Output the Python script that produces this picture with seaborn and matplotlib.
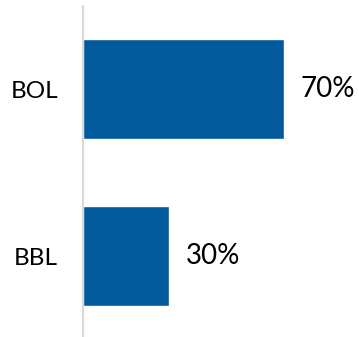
import matplotlib
matplotlib.use("Agg")
import matplotlib.pyplot as plt
import seaborn as sns
import pandas as pd

categories = ["BOL", "BBL"]
values = [70, 30]
value_labels = ["70%", "30%"]

sns.set_style("white")
plt.rcParams['font.family'] = ['Lato', 'DejaVu Sans']

df = pd.DataFrame({"cat": categories, "val": values})

fig = plt.figure(figsize=(3.59, 3.37), dpi=100)
ax = fig.add_axes([83 / 359, -2.4 / 337, 258 / 359, 333.4 / 337])

sns.barplot(data=df, x="val", y="cat", orient="h", color="#02599C",
            saturation=1, width=0.6, ax=ax)

ax.set_xlim(0, 90)
ax.set_ylim(1.5, -0.5)
ax.bar_label(ax.containers[0], labels=value_labels, padding=12,
             fontsize=20, color="#000000", clip_on=False)

ax.set_xlabel("")
ax.set_ylabel("")
ax.set_xticks([])
ax.tick_params(axis="y", length=0, pad=18, labelsize=17.5, labelcolor="#000000")
for s in ["top", "right", "bottom"]:
    ax.spines[s].set_visible(False)
ax.spines["left"].set_color("#D9D9D9")
ax.spines["left"].set_linewidth(1.5)

fig.savefig("out.png", dpi=100)
